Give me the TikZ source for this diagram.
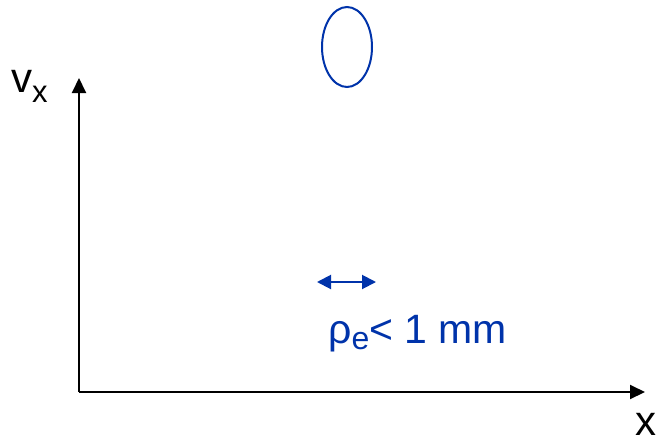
\documentclass[tikz,border=0pt]{standalone}
\usepackage{fontspec}
\setmainfont{Liberation Sans}
\usetikzlibrary{arrows.meta,shapes.geometric}
\definecolor{dblue}{RGB}{0,51,170}
\begin{document}
\begin{tikzpicture}[x=1pt,y=-1pt,
  axis/.style={line width=2pt,-{Triangle[length=15pt,width=14pt]}},
  barrow/.style={dblue,line width=2pt,{Triangle[length=14pt,width=14pt]}-{Triangle[length=14pt,width=14pt]}},
  lbl/.style={anchor=base west,inner sep=0pt,font=\fontsize{42}{42}\selectfont}]
\useasboundingbox (0,0) rectangle (656,445);
\coordinate (O) at (79,392);
\coordinate (ytip) at (79,78);
\coordinate (xtip) at (645,392);
\draw[axis] (O) -- (ytip);
\draw[axis] (O) -- (xtip);
\node[ellipse,draw=dblue,line width=2pt,minimum width=50pt,minimum height=80pt,inner sep=0pt] (blob) at (347,47) {};
\coordinate (a1) at (317,282);
\coordinate (a2) at (376,282);
\draw[barrow] (a1) -- (a2);
\node[lbl,text=dblue,font=\fontsize{41}{41}\selectfont] (rho) at (328,343) {ρ\raisebox{-6pt}{\fontsize{32}{32}\selectfont e}< 1 mm};
\node[lbl] (vx) at (11,92) {v\raisebox{-10pt}{\fontsize{31}{31}\selectfont x}};
\node[lbl] (xl) at (635,435) {x};
\end{tikzpicture}
\end{document}
